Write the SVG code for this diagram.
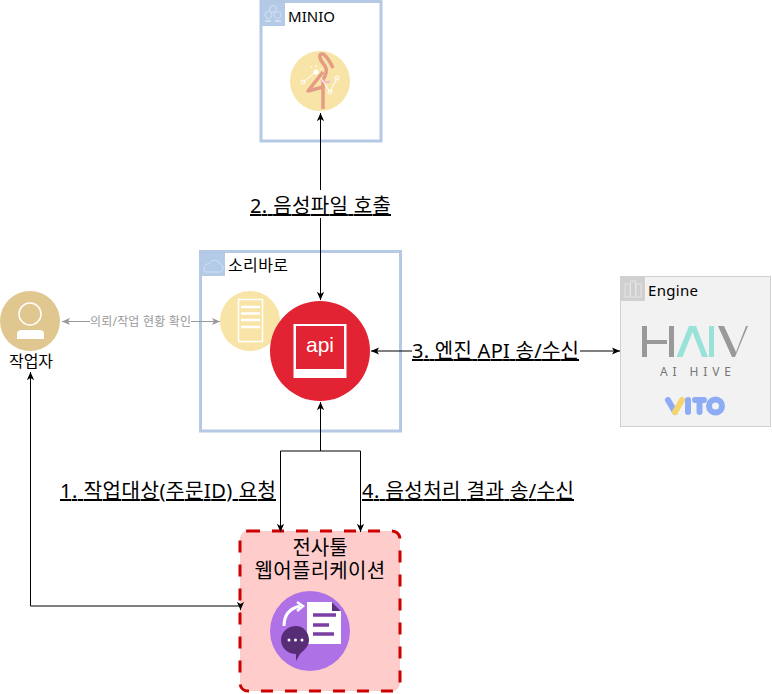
<svg xmlns="http://www.w3.org/2000/svg" width="772" height="694" viewBox="0 0 772 694">
<style>
text{font-family:"Noto Sans","Noto Sans CJK KR",sans-serif;fill:#000}
.lbl{font-size:20px;text-decoration:underline;text-decoration-skip-ink:none}
.ln{fill:none;stroke:#000;stroke-width:1}
.gr{fill:none;stroke:#999;stroke-width:1}
.grp{fill:#fff;stroke:#b5c9e4;stroke-width:3}
.ic{fill:#b0c8e6;opacity:.95}
</style>
<defs>
<marker id="a" viewBox="0 0 10 10" refX="9" refY="5" markerWidth="9" markerHeight="9" markerUnits="userSpaceOnUse" orient="auto-start-reverse"><path d="M0 1 L9 5 L0 9 L2.2 5Z" fill="#000"/></marker>
<marker id="g" viewBox="0 0 10 10" refX="9" refY="5" markerWidth="9" markerHeight="9" markerUnits="userSpaceOnUse" orient="auto"><path d="M0 1 L9 5 L0 9 L2.2 5Z" fill="#999"/></marker>
</defs>

<g id="minio">
<rect class="grp" x="261" y="1.500" width="120" height="139.500"/>
<rect class="ic" x="261" y="2" width="24" height="24"/>
<g fill="none" stroke="#d3e0f0" stroke-width="1"><circle cx="273" cy="9" r="3.500"/><circle cx="268.500" cy="15" r="3.500"/><circle cx="277.500" cy="15" r="3.500"/><path d="M265 21h6M275 21h6" stroke-width="2"/></g>
<text x="288" y="22" font-size="15" textLength="47">MINIO</text>
<circle cx="320" cy="81" r="30" fill="#f7e4a6"/>
<path d="M323 109V80C326 75 328 70 325 66C321 61 319 58 320 55C322 52 327 55 333 68" fill="none" stroke="#e59c84" stroke-width="3.500" stroke-linejoin="round"/>
<path d="M323 72L308 91L323 87" fill="none" stroke="#e59c84" stroke-width="3.500" stroke-linejoin="round"/>
<path d="M321 80Q326 84 330 81" fill="none" stroke="#f2b8c6" stroke-width="2"/>
<g fill="none" stroke="#fff" stroke-width="1"><path d="M303 82L316 72"/><circle cx="303" cy="82" r="2"/><circle cx="316" cy="72" r="2.200" fill="#fff"/><path d="M321 78L330 92L337 78"/><circle cx="330" cy="92" r="2"/><circle cx="337" cy="78" r="2"/><path d="M311 68L312 66M316 65V67M322 68L321 70"/></g>
</g>

<g id="sorimaro">
<rect class="grp" x="200.500" y="251.500" width="200" height="179.500"/>
<rect class="ic" x="201" y="252" width="24" height="24"/>
<path d="M205 272C202 266 207 263 209 264C211 259 218 259 220 264C224 265 224 272 220 272Z" fill="none" stroke="#d3e0f0"/>
<text x="228" y="271" font-size="16" textLength="60">소리바로</text>
</g>
<g id="server">
<circle cx="250" cy="321" r="30" fill="#f7e4a6"/>
<rect x="238.500" y="299.500" width="24" height="42" fill="none" stroke="#fff" stroke-width="1.500"/>
<path d="M241 307h19M241 313.500h19M241 320h19M241 327h19" stroke="#fff" stroke-width="2.500" fill="none"/>
</g>
<g id="api">
<circle cx="320" cy="351" r="50" fill="#e12333"/>
<rect x="293.500" y="324" width="53" height="54" fill="#fff"/>
<rect x="296" y="326" width="48" height="43" fill="#e12333"/>
<text x="320" y="352" text-anchor="middle" font-size="21" font-weight="500" style="fill:#fff;font-family:'Liberation Sans',sans-serif">api</text>
</g>

<g id="engine">
<rect x="620.500" y="276.500" width="150" height="150" fill="#f2f2f2" stroke="#d0d0d0"/>
<rect x="621" y="277" width="24" height="24" fill="#d0d0d0"/>
<g fill="none" stroke="#e4e4e4"><rect x="625" y="284" width="5" height="13"/><rect x="630.500" y="281" width="5" height="16"/><rect x="636" y="284" width="5" height="13"/></g>
<text x="648" y="296" font-size="15" textLength="50">Engine</text>
<path d="M644.500 326V357M671.500 326V357" fill="none" stroke="#999" stroke-width="5"/>
<path d="M642 340H667V344H642Z" fill="#999"/>
<path d="M676.500 357L689 326H696L708 357H702L692.500 332L682.500 357Z" fill="#98e2d8"/>
<rect x="709" y="326" width="5" height="31" fill="#98e2d8"/>
<path d="M718 326H724L736 352L746 326H748L735 357H732Z" fill="#999"/>
<text x="660" y="376" font-size="12" textLength="71" style="fill:#777">AI HIVE</text>
<g fill="none" stroke-width="6" stroke-linecap="round" stroke-linejoin="round">
<path d="M668 400L675 412" stroke="#8eacf6"/>
<path d="M682 400L675 412" stroke="#f7d56e"/>
<path d="M688 400V412M695 400H704M699.500 400V412" stroke="#8eacf6"/>
<circle cx="715.500" cy="406" r="6.500" stroke="#8eacf6"/>
</g>
</g>

<g id="tool">
<rect x="240" y="531" width="160" height="160" rx="8" fill="#ffcccc" stroke="#cc0000" stroke-width="3" stroke-dasharray="12 12"/>
<text font-size="20" text-anchor="middle"><tspan x="320" y="555">전사툴</tspan><tspan x="320" y="578" letter-spacing=".3">웹어플리케이션</tspan></text>
<circle cx="310" cy="631" r="40" fill="#ae71e6"/>
<path d="M307 602H332L341 611V644H307Z" fill="#fff"/>
<path d="M332 602L341 611H332Z" fill="#5d2e85"/>
<path d="M313 615H336M313 625H329M313 634H334" stroke="#7b3fa3" stroke-width="3.500" fill="none"/>
<path d="M284 626C284 614 291 608 300 606" fill="none" stroke="#fff" stroke-width="3"/>
<path d="M297 602L303 606L297 611" fill="none" stroke="#fff" stroke-width="2.500"/>
<path d="M296 626C304 626 309 633 309 640C309 647 303 651 300 654L296 661V654C288 654 281 648 281 640C281 632 288 626 296 626Z" fill="#572d75"/>
<g fill="#fff"><circle cx="289" cy="640" r="1.500"/><circle cx="295.500" cy="640" r="1.500"/><circle cx="302" cy="640" r="1.500"/></g>
</g>

<g id="worker">
<circle cx="30" cy="321" r="30" fill="#e0c78f"/>
<circle cx="30" cy="314" r="11" fill="none" stroke="#fff" stroke-width="1.500"/>
<path d="M17 339V334C17 331 19 330 22 330H39C42 330 44 331 44 334V339Z" fill="#fff"/>
<text x="9" y="367" font-size="16" textLength="44">작업자</text>
</g>

<g id="connectors">
<path class="ln" d="M320.500 190V113" marker-end="url(#a)"/>
<path class="ln" d="M320.500 218V300" marker-end="url(#a)"/>
<path class="ln" d="M320.500 451V402" marker-end="url(#a)"/>
<path class="ln" d="M320.500 451H280.500V532" marker-end="url(#a)"/>
<path class="ln" d="M320.500 451H360.500V532" marker-end="url(#a)"/>
<path class="ln" d="M412 351H371" marker-end="url(#a)"/>
<path class="ln" d="M580 351H620" marker-end="url(#a)"/>
<path class="ln" d="M240.500 610V606H30.500V372" marker-start="url(#a)" marker-end="url(#a)"/>
<path class="gr" d="M90 321.500H62" marker-end="url(#g)"/>
<path class="gr" d="M191 321.500H220" marker-end="url(#g)"/>
<text x="90" y="326" font-size="12" textLength="101" style="fill:#999">의뢰/작업 현황 확인</text>
<text class="lbl" x="250" y="213" textLength="141">2. 음성파일 호출</text>
<text class="lbl" x="412" y="358" textLength="167">3. 엔진 API 송/수신</text>
<text class="lbl" x="60" y="498" textLength="216">1. 작업대상(주문ID) 요청</text>
<text class="lbl" x="362" y="498" textLength="212">4. 음성처리 결과 송/수신</text>
</g>
</svg>
